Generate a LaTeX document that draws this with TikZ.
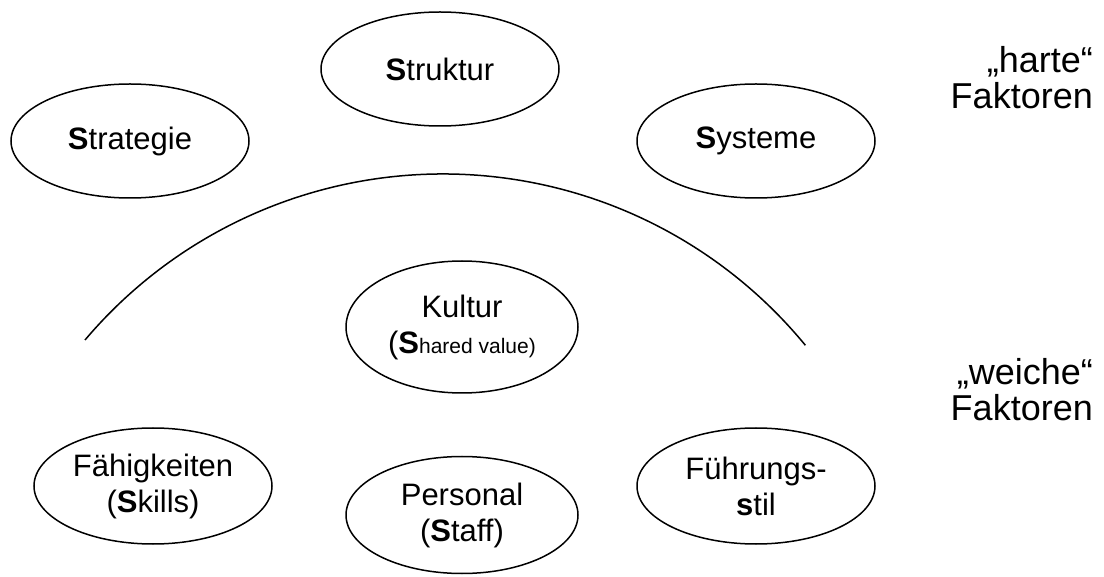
\documentclass[tikz,border=0pt]{standalone}
\usepackage{fontspec}
\setmainfont{Liberation Sans}
\usetikzlibrary{shapes.geometric}
\tikzset{
  factor/.style={ellipse, draw=black, line width=1.5pt, inner sep=0pt,
    minimum width=238pt, minimum height=114pt, align=center,
    font=\fontsize{31}{36}\selectfont},
  sidelabel/.style={anchor=east, align=right, inner sep=0pt,
    font=\fontsize{36}{36}\selectfont},
  archline/.style={line width=1.5pt}
}
\begin{document}
\begin{tikzpicture}[x=1pt,y=-1pt]
\useasboundingbox (0,0) rectangle (1104,577);
% hard factors
\node[factor] (struktur) at (440,69) {\textbf{S}truktur};
\node[factor] (strategie) at (130,141) {\textbf{S}trategie};
\node[factor] (systeme) at (756,141) {\textbf{S}ysteme};
% soft factors
\node[factor, minimum width=232pt, minimum height=132pt] (kultur) at (462,327)
  {Kultur\\(\textbf{S}{\fontsize{21}{25}\selectfont hared value)}};
\node[factor, minimum height=116pt] (faehig) at (153,486) {Fähigkeiten\\(\textbf{S}kills)};
\node[factor, minimum height=116pt] (fuehrung) at (756,486) {Führungs-\\\textbf{s}til};
\node[factor, minimum width=232pt, minimum height=117pt] (personal) at (462,515) {Personal\\(\textbf{S}taff)};
% dividing arc
\coordinate (arcstart) at (85,340);
\draw[archline] (arcstart) arc[start angle=139.76, end angle=39.4, radius=469pt];
% side labels
\node[sidelabel] (harte) at (1093,78) {„harte“\\Faktoren};
\node[sidelabel] (weiche) at (1093,390) {„weiche“\\Faktoren};
\end{tikzpicture}
\end{document}
